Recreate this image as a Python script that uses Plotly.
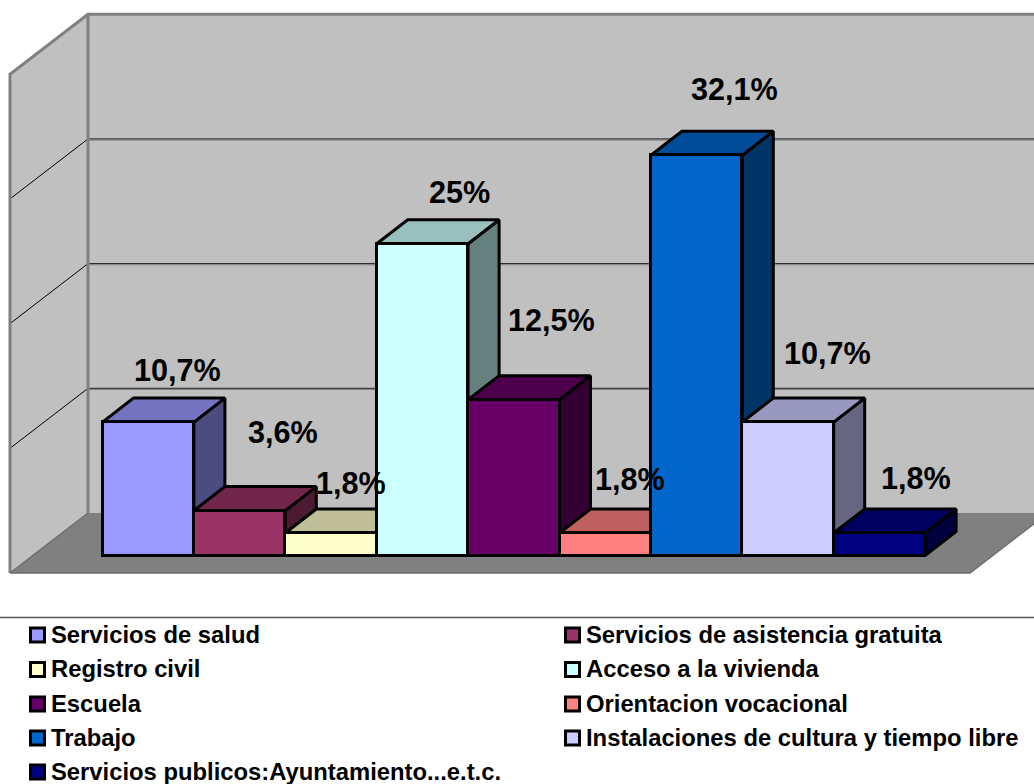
import plotly.graph_objects as go

categories = ["Servicios de salud", "Servicios de asistencia gratuita", "Registro civil",
              "Acceso a la vivienda", "Escuela", "Orientacion vocacional", "Trabajo",
              "Instalaciones de cultura y tiempo libre", "Servicios publicos:Ayuntamiento...e.t.c."]
values = [10.7, 3.6, 1.8, 25, 12.5, 1.8, 32.1, 10.7, 1.8]
value_labels = ["10,7%", "3,6%", "1,8%", "25%", "12,5%", "1,8%", "32,1%", "10,7%", "1,8%"]
colors = ["#9999FF", "#993366", "#FFFFCC", "#CCFFFF", "#660066", "#FF8080", "#0066CC", "#CCCCFF", "#000080"]
wall_ticks = [0, 10, 20, 30, 40]

# layout constants (pixels)
W, H = 1034, 784
CAT_PX, VAL_PX = 91.4, 12.47
X0_PX, Y0_PX = 148.2, 555.5
label_dx = [30, 44, 20, 38, 38, 25, 38, 40, 37]
label_dy = [53, 79, 51, 52, 80, 55, 67, 70, 56]
FONT = "Liberation Sans, Arial, sans-serif"

xr = [(0 - X0_PX) / CAT_PX, (W - X0_PX) / CAT_PX]
yr = [(Y0_PX - H) / VAL_PX, Y0_PX / VAL_PX]
px_x = lambda p: (p - X0_PX) / CAT_PX
px_y = lambda p: (Y0_PX - p) / VAL_PX

DX, DY = 31 / CAT_PX, 24 / VAL_PX            # bar depth
FX, FY = px_x(10), px_y(573)                 # floor front-left corner
BX, BY = px_x(88), px_y(513)                 # floor back-left corner
RX = px_x(970)                               # floor front-right
WALL, FLOOR, EDGE = "#C0C0C0", "#808080", "#808080"


def shade(hex_color, f):
    r, g, b = (int(hex_color[i:i + 2], 16) for i in (1, 3, 5))
    return f"rgb({round(r * f)},{round(g * f)},{round(b * f)})"


def poly(xs, ys, fill, line="rgba(0,0,0,0)", width=0, name=""):
    return go.Scatter(x=xs + xs[:1], y=ys + ys[:1], mode="lines", fill="toself", fillcolor=fill,
                      line=dict(color=line, width=width), showlegend=False, hoverinfo="skip", name=name)


def seg(xs, ys, color, width):
    return go.Scatter(x=xs, y=ys, mode="lines", line=dict(color=color, width=width),
                      showlegend=False, hoverinfo="skip")


fig = go.Figure()
top_v = wall_ticks[-1]
depth_x, depth_y = BX - FX, BY - FY
back_right = RX + depth_x

# walls and floor
fig.add_trace(poly([FX, BX, BX, FX], [FY, BY, BY + top_v, FY + top_v], WALL, name="left wall"))
fig.add_trace(poly([BX, back_right, back_right, BX], [BY, BY, BY + top_v, BY + top_v], WALL, name="back wall"))
fig.add_trace(poly([FX, RX, back_right, BX], [FY, FY, BY, BY], FLOOR, name="floor"))
for t in wall_ticks[1:-1]:
    fig.add_trace(seg([BX, back_right], [BY + t - 0.1, BY + t - 0.1], EDGE, 1))
    fig.add_trace(seg([BX, back_right], [BY + t, BY + t], "#202020", 1))
    fig.add_trace(seg([FX, BX], [FY + t, BY + t], "#000000", 1))
fig.add_trace(seg([FX, FX, BX, back_right], [FY, FY + top_v, BY + top_v, BY + top_v], EDGE, 3))
fig.add_trace(seg([BX, BX], [BY, BY + top_v], EDGE, 3))
fig.add_trace(seg([BX, FX, RX, back_right], [BY, FY, FY, BY], "#6E6E6E", 1.5))

# top and side faces, left to right
for i, v in enumerate(values):
    l, r = i - 0.5, i + 0.5
    fig.add_trace(poly([r, r + DX, r + DX, r], [0, DY, v + DY, v], shade(colors[i], 0.5), "#000000", 3))
    fig.add_trace(poly([l, l + DX, r + DX, r], [v, v + DY, v + DY, v], shade(colors[i], 0.75), "#000000", 3))

# front faces
for i, v in enumerate(values):
    fig.add_trace(go.Bar(x=[i], y=[v], width=1, name=categories[i], yaxis="y2", showlegend=False,
                         marker=dict(color=colors[i], line=dict(color="#000000", width=3))))

# value labels
annotations = []
for i, v in enumerate(values):
    annotations.append(dict(x=i, y=v, xref="x", yref="y", text=f"<b>{value_labels[i]}</b>", showarrow=False,
                            xshift=label_dx[i] - 0.5, yshift=label_dy[i] - 0.5,
                            font=dict(family=FONT, size=30.6, color="#000000")))

# legend
row_px = [635, 669.5, 704, 738, 772]
for i, name in enumerate(categories):
    col, row = i % 2, i // 2
    sx = [37.5, 572.5][col]
    fig.add_trace(go.Scatter(x=[px_x(sx)], y=[px_y(row_px[row])], mode="markers", name=name, showlegend=False,
                             hoverinfo="skip",
                             marker=dict(symbol="square", size=14, color=colors[i],
                                         line=dict(color="#000000", width=3))))
    annotations.append(dict(x=(sx + 11.5) / W, y=1 - (row_px[row] - 0.8) / H, xref="paper", yref="paper",
                            xanchor="left", yanchor="middle", showarrow=False, text=f"<b>{name}</b>",
                            font=dict(family=FONT, size=23.8, color="#000000")))

fig.update_layout(
    width=W, height=H, margin=dict(l=0, r=0, t=0, b=0, pad=0),
    paper_bgcolor="#FFFFFF", plot_bgcolor="#FFFFFF", barmode="overlay", bargap=0,
    xaxis=dict(range=xr, visible=False, fixedrange=True),
    yaxis=dict(range=yr, visible=False, fixedrange=True),
    yaxis2=dict(range=yr, visible=False, fixedrange=True, overlaying="y"),
    annotations=annotations,
    shapes=[dict(type="line", xref="paper", yref="y", x0=0, x1=1, y0=px_y(617.5), y1=px_y(617.5),
                 line=dict(color="#555555", width=1.5))],
    showlegend=False,
)
fig.write_html("out.html", config=dict(displayModeBar=False),
               post_script="document.body.style.margin='0';document.body.style.overflow='hidden';")
